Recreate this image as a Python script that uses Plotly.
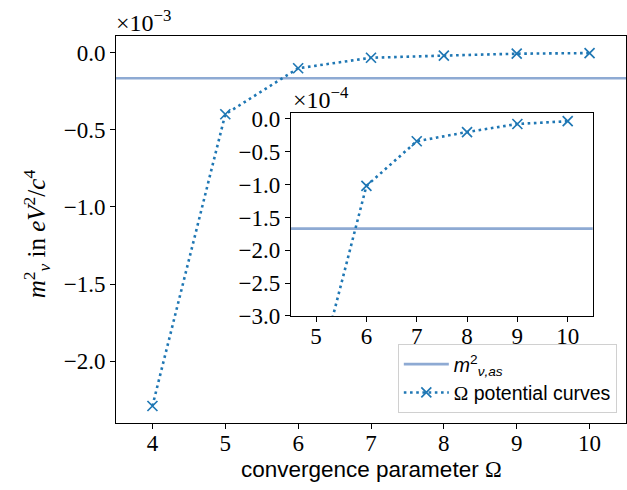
import plotly.graph_objects as go

# ---- data ----
omega = [4, 5, 6, 7, 8, 9, 10]
m2_values = [-2.29e-3, -4.0e-4, -1.02e-4, -3.4e-5, -2.0e-5, -7.7e-6, -3.5e-6]
m2_as = -1.67e-4

main_xlim = [3.5, 10.5]
main_ylim = [-2.4e-3, 0.107e-3]
inset_xlim = [4.5, 10.5]
inset_ylim = [-3.0e-4, 0.09e-4]

main_xticks = [4, 5, 6, 7, 8, 9, 10]
main_yticks = [0.0, -0.5, -1.0, -1.5, -2.0]          # in units of 1e-3
inset_xticks = [5, 6, 7, 8, 9, 10]
inset_yticks = [0.0, -0.5, -1.0, -1.5, -2.0, -2.5, -3.0]  # in units of 1e-4

BLUE = "#1f77b4"
AS_COLOR = "#8eaad3"
SERIF = "Liberation Serif"
SANS = "Liberation Sans"


def fmt(v):
    s = f"{abs(v):.1f}"
    return ("\u2212" + s) if v < 0 else s


fig = go.Figure()

# main axes
fig.add_trace(go.Scatter(x=main_xlim, y=[m2_as, m2_as], mode="lines",
                         line=dict(color=AS_COLOR, width=2.6),
                         name="<i>m</i><sup>2</sup><sub><i>ν,as</i></sub>",
                         xaxis="x", yaxis="y", showlegend=True))
fig.add_trace(go.Scatter(x=omega, y=m2_values, mode="lines+markers",
                         line=dict(color=BLUE, width=2.6, dash="2.6px,3.6px"),
                         marker=dict(symbol="x-thin", size=10,
                                     line=dict(color=BLUE, width=1.7)),
                         name="<span style='font-family:Liberation Serif'>Ω</span> potential curves",
                         xaxis="x", yaxis="y", showlegend=True))

# inset axes
fig.add_trace(go.Scatter(x=inset_xlim, y=[m2_as, m2_as], mode="lines",
                         line=dict(color=AS_COLOR, width=2.6),
                         xaxis="x2", yaxis="y2", showlegend=False))
fig.add_trace(go.Scatter(x=omega, y=m2_values, mode="lines+markers",
                         line=dict(color=BLUE, width=2.6, dash="2.6px,3.6px"),
                         marker=dict(symbol="x-thin", size=10,
                                     line=dict(color=BLUE, width=1.7)),
                         xaxis="x2", yaxis="y2", showlegend=False))

axis_common = dict(showline=True, mirror=True, linecolor="black", linewidth=1,
                   ticks="outside", ticklen=5, tickwidth=1, tickcolor="black",
                   showgrid=False, zeroline=False,
                   tickfont=dict(family=SERIF, size=23, color="black"))

fig.update_layout(
    width=627, height=490,
    margin=dict(l=116, r=1, t=36, b=67),
    paper_bgcolor="white", plot_bgcolor="white",
    xaxis=dict(domain=[0, 1], range=main_xlim, tickvals=main_xticks,
               ticktext=[str(t) for t in main_xticks], anchor="y",
               ticklabelstandoff=-6, **axis_common),
    yaxis=dict(domain=[0, 1], range=main_ylim,
               tickvals=[t * 1e-3 for t in main_yticks],
               ticktext=[fmt(t) for t in main_yticks], anchor="x", **axis_common),
    xaxis2=dict(domain=[0.343, 0.935], range=inset_xlim, tickvals=inset_xticks,
                ticktext=[str(t) for t in inset_xticks], anchor="y2",
                ticklabelstandoff=-6, **axis_common),
    yaxis2=dict(domain=[0.2765, 0.801], range=inset_ylim,
                tickvals=[t * 1e-4 for t in inset_yticks],
                ticktext=[fmt(t) for t in inset_yticks], anchor="x2", **axis_common),
    legend=dict(x=0.982, y=0.026, xanchor="right", yanchor="bottom",
                bgcolor="white", bordercolor="#d0d0d0", borderwidth=1,
                font=dict(family=SANS, size=19.5, color="black"),
                itemwidth=45, tracegroupgap=0),
    showlegend=True,
)

fig.add_shape(type="rect", xref="x2 domain", yref="y2 domain", x0=0, x1=1, y0=0, y1=1,
              fillcolor="white", line=dict(width=0), layer="below")

annotations = [
    dict(text="×10<sup>−3</sup>", xref="paper", yref="paper", x=-0.003, y=0.995,
         xanchor="left", yanchor="bottom", showarrow=False,
         font=dict(family=SERIF, size=24, color="black")),
    dict(text="×10<sup>−4</sup>", xref="paper", yref="paper", x=0.343, y=0.796,
         xanchor="left", yanchor="bottom", showarrow=False,
         font=dict(family=SERIF, size=24, color="black")),
    dict(text="convergence parameter <span style='font-family:Liberation Serif'>Ω</span>",
         xref="paper", yref="paper", x=0.5, y=-0.12, xanchor="center", yanchor="middle",
         showarrow=False, font=dict(family=SANS, size=22.5, color="black")),
    dict(text="<i>m</i><sup>2</sup><sub><i>ν</i></sub> in <i>eV</i><sup>2</sup>/<i>c</i><sup>4</sup>",
         xref="paper", yref="paper", x=-0.155, y=0.49, xanchor="center", yanchor="middle",
         textangle=-90, showarrow=False, font=dict(family=SERIF, size=25, color="black")),
]
fig.update_layout(annotations=annotations)

fig.write_html("out.html")
